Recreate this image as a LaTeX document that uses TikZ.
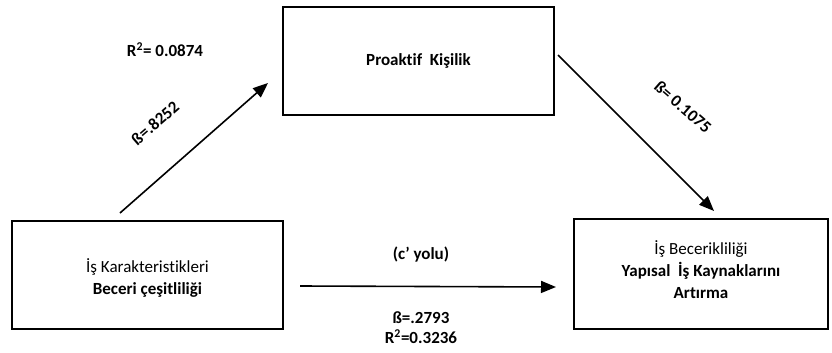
\documentclass[tikz,border=0pt]{standalone}
\usepackage{fontspec}
\setmainfont[Ligatures={NoCommon}]{Carlito}
\usetikzlibrary{arrows.meta}
\begin{document}
\begin{tikzpicture}[x=1pt,y=-1pt,
  conn/.style={line width=1.6pt,-{Triangle[length=15pt,width=12pt]}},
  lbl/.style={font=\fontsize{17}{22}\selectfont\bfseries,inner sep=0pt},
  txt/.style={font=\fontsize{17}{22}\selectfont,inner sep=0pt,align=center}]
\useasboundingbox (0,0) rectangle (832,353);
% boxes
\draw[line width=1.7pt] (12,221) rectangle (283,329);
\draw[line width=1.7pt] (283,7) rectangle (554,115);
\draw[line width=1.7pt] (574,219) rectangle (828,329);
\node[txt] (left) at (147.5,278) {İş Karakteristikleri\\\bfseries Beceri çeşitliliği};
\node[txt] (mid) at (418.5,61) {\bfseries Proaktif\ \ Kişilik};
\node[txt] (right) at (701,270) {İş Becerikliliği\\\bfseries Yapısal\ \ İş Kaynaklarını\\\bfseries Artırma};
% anchor coordinates for arrows
\coordinate (a1s) at (120,213);
\coordinate (a1e) at (268,83);
\coordinate (a2s) at (558,55);
\coordinate (a2e) at (714,211);
\coordinate (a3s) at (300,286);
\coordinate (a3e) at (556,287);
\draw[conn] (a1s) -- (a1e);
\draw[conn] (a2s) -- (a2e);
\draw[conn] (a3s) -- (a3e);
% labels
\node[lbl] (r1) at (165,50) {R\textsuperscript{2}= 0.0874};
\node[lbl,rotate=41] (b1) at (155,123) {ß=.8252};
\node[lbl,rotate=-41] (b2) at (683,107) {ß= 0.1075};
\node[lbl] (c) at (421,255) {(c’ yolu)};
\node[lbl] (b3) at (421,318) {ß=.2793};
\node[lbl] (r3) at (421,337) {R\textsuperscript{2}=0.3236};
\end{tikzpicture}
\end{document}
